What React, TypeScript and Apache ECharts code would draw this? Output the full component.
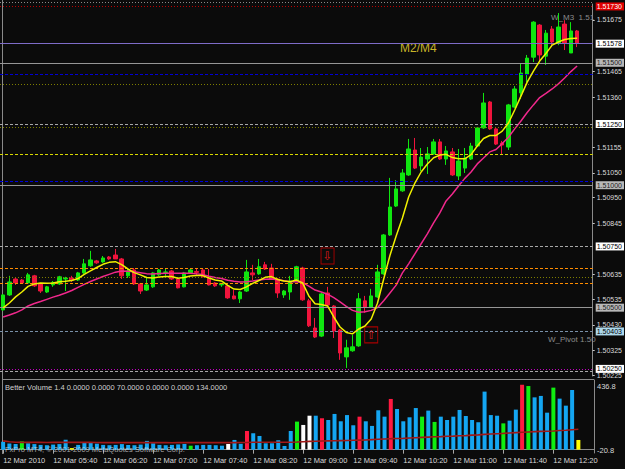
import React, { useEffect, useRef } from "react";
import * as echarts from "echarts";

// ---- data (EURUSD-like M5 chart, 12 Mar 2010) ----
const opens = [
  1.50491, 1.50552, 1.50617, 1.50613, 1.50601, 1.5063, 1.50597, 1.50564, 1.50593, 1.50597,
  1.50617, 1.50621, 1.50613, 1.50642, 1.50671, 1.50691, 1.50687, 1.50707, 1.50715, 1.50699,
  1.5063, 1.50654, 1.50597, 1.50572, 1.50585, 1.50634, 1.50644, 1.5065, 1.50617, 1.50585,
  1.50642, 1.50648, 1.50654, 1.50621, 1.50601, 1.50593, 1.50589, 1.50548, 1.50536, 1.50568,
  1.50642, 1.50638, 1.50675, 1.50662, 1.50617, 1.50552, 1.50564, 1.50613, 1.50662, 1.50528,
  1.50417, 1.50384, 1.5056, 1.50507, 1.50409, 1.50299, 1.50324, 1.50344, 1.50528, 1.50503,
  1.50544, 1.50638, 1.50797, 1.50915, 1.50977, 1.51042, 1.51144, 1.51079, 1.51107, 1.51128,
  1.51177, 1.51107, 1.51136, 1.51038, 1.5107, 1.51107, 1.5116, 1.51234, 1.5134, 1.5123,
  1.51172, 1.51156, 1.51319, 1.51377, 1.51454, 1.51523, 1.51654, 1.51527, 1.51638, 1.51581,
  1.51658, 1.5154, 1.5163,
];
const closes = [
  1.50552, 1.50605, 1.50601, 1.50601, 1.50634, 1.50589, 1.50568, 1.50585, 1.50603, 1.50626,
  1.50621, 1.50613, 1.50642, 1.50679, 1.50695, 1.50683, 1.50703, 1.50699, 1.50699, 1.5063,
  1.5065, 1.50597, 1.50568, 1.50593, 1.50642, 1.50654, 1.50646, 1.50617, 1.50581, 1.50642,
  1.50654, 1.50644, 1.50626, 1.50593, 1.50589, 1.50599, 1.5054, 1.50536, 1.50564, 1.50646,
  1.50634, 1.50667, 1.50658, 1.50617, 1.5056, 1.50568, 1.50609, 1.50667, 1.50532, 1.50426,
  1.5038, 1.50556, 1.50511, 1.50405, 1.50315, 1.50336, 1.5034, 1.50536, 1.50503, 1.50548,
  1.50646, 1.50797, 1.50911, 1.50985, 1.5105, 1.51148, 1.5107, 1.51115, 1.51128, 1.51177,
  1.51107, 1.5114, 1.51042, 1.51099, 1.51111, 1.5116, 1.51234, 1.51336, 1.5123, 1.51168,
  1.51164, 1.51328, 1.51393, 1.51458, 1.51519, 1.51666, 1.51532, 1.51621, 1.51585, 1.51646,
  1.51581, 1.5163, 1.51581,
];
const highs = [
  1.50556, 1.5063, 1.50621, 1.50617, 1.50642, 1.50634, 1.50601, 1.50589, 1.50609, 1.5063,
  1.50626, 1.5063, 1.50646, 1.50699, 1.50732, 1.50695, 1.50711, 1.50711, 1.5074, 1.50703,
  1.50658, 1.50662, 1.50601, 1.50626, 1.50646, 1.50658, 1.50658, 1.50654, 1.50621, 1.50646,
  1.50662, 1.50662, 1.50658, 1.50658, 1.50605, 1.50601, 1.50593, 1.50572, 1.50568, 1.50695,
  1.50675, 1.50699, 1.50687, 1.50679, 1.50621, 1.50572, 1.5063, 1.50671, 1.50667, 1.50536,
  1.50458, 1.5056, 1.50585, 1.50511, 1.50413, 1.50369, 1.50389, 1.5056, 1.50548, 1.50577,
  1.50675, 1.50801, 1.5103, 1.51021, 1.51066, 1.51189, 1.51193, 1.51152, 1.51156, 1.51189,
  1.51189, 1.5116, 1.51152, 1.51148, 1.51152, 1.51173, 1.51238, 1.51377, 1.51344, 1.51238,
  1.51181, 1.51332, 1.51405, 1.51499, 1.51532, 1.5167, 1.51658, 1.51634, 1.5165, 1.51703,
  1.51674, 1.51666, 1.51634,
];
const lows = [
  1.50487, 1.50548, 1.50593, 1.50597, 1.50597, 1.50585, 1.5056, 1.5056, 1.50585, 1.50593,
  1.50568, 1.50605, 1.50609, 1.50638, 1.50667, 1.50679, 1.50683, 1.50695, 1.50699, 1.50617,
  1.50621, 1.50593, 1.50556, 1.50568, 1.50581, 1.5063, 1.5063, 1.50613, 1.50579, 1.50583,
  1.50638, 1.50634, 1.50624, 1.50591, 1.50585, 1.50585, 1.50536, 1.50534, 1.50519, 1.50564,
  1.50613, 1.50634, 1.50654, 1.50613, 1.5054, 1.5054, 1.50532, 1.50609, 1.50528, 1.50421,
  1.50376, 1.5038, 1.50507, 1.50376, 1.50287, 1.50254, 1.5032, 1.5034, 1.50479, 1.50499,
  1.5054, 1.50634, 1.50793, 1.50911, 1.50973, 1.51038, 1.51066, 1.51058, 1.51046, 1.51124,
  1.51103, 1.51083, 1.51038, 1.51021, 1.5105, 1.51103, 1.51156, 1.5123, 1.51226, 1.51164,
  1.51124, 1.51144, 1.51315, 1.51352, 1.51421, 1.51503, 1.51503, 1.51491, 1.51564, 1.51572,
  1.51552, 1.5154, 1.51564,
];
const fastMA = [
  1.50499, 1.50519, 1.50544, 1.50564, 1.50587, 1.50597, 1.50601, 1.506, 1.50601, 1.50606,
  1.50608, 1.50611, 1.50619, 1.50636, 1.5065, 1.50664, 1.50677, 1.50685, 1.50688, 1.50676,
  1.50658, 1.50643, 1.50634, 1.50623, 1.50621, 1.50625, 1.50627, 1.50627, 1.5062, 1.50623,
  1.50629, 1.50631, 1.50631, 1.50621, 1.50613, 1.50609, 1.50591, 1.50576, 1.50574, 1.50585,
  1.50599, 1.50611, 1.50624, 1.50627, 1.50615, 1.50609, 1.50606, 1.50613, 1.50601, 1.50548,
  1.50516, 1.50513, 1.50507, 1.50462, 1.50421, 1.50399, 1.50393, 1.50413, 1.50425, 1.50454,
  1.50518, 1.50617, 1.50713, 1.50793, 1.50866, 1.50952, 1.51009, 1.51054, 1.51087, 1.51112,
  1.51123, 1.51126, 1.51113, 1.51108, 1.51108, 1.51125, 1.5116, 1.51191, 1.51203, 1.51203,
  1.51221, 1.51254, 1.51307, 1.51364, 1.51421, 1.51466, 1.51507, 1.51538, 1.51572, 1.51585,
  1.51595, 1.51599, 1.516,
];
const slowMA = [
  1.50462, 1.5047, 1.50479, 1.50491, 1.50507, 1.50517, 1.50525, 1.50534, 1.50543, 1.50551,
  1.5056, 1.5057, 1.50583, 1.50595, 1.50607, 1.50617, 1.50627, 1.50636, 1.50645, 1.5065,
  1.50649, 1.50647, 1.50643, 1.50639, 1.50638, 1.5064, 1.50641, 1.50641, 1.50641, 1.50641,
  1.50641, 1.50638, 1.50635, 1.50628, 1.50623, 1.50619, 1.50612, 1.50608, 1.50605, 1.50606,
  1.50609, 1.50613, 1.50616, 1.50617, 1.50614, 1.5061, 1.50606, 1.50606, 1.50602, 1.50588,
  1.50572, 1.50564, 1.50555, 1.50541, 1.50524, 1.50505, 1.50489, 1.50481, 1.50483, 1.50489,
  1.505, 1.50528, 1.5056, 1.50592, 1.50642, 1.50679, 1.5072, 1.50761, 1.50801, 1.50846,
  1.50887, 1.50936, 1.50964, 1.50997, 1.51028, 1.51054, 1.51087, 1.51111, 1.51136, 1.51146,
  1.5117, 1.51196, 1.5123, 1.51262, 1.51297, 1.51328, 1.51358, 1.51375, 1.51393, 1.51414,
  1.51438, 1.51464, 1.51487,
];
const volumes = [
  50, 38, 35, 52, 40, 35, 30, 28, 32, 35,
  62, 10, 30, 45, 45, 38, 30, 28, 30, 35,
  30, 28, 32, 55, 40, 30, 28, 30, 33, 36,
  25, 28, 30, 30, 28, 25, 36, 61, 37, 117,
  103, 86, 40, 40, 59, 23, 117, 176, 155, 213,
  213, 197, 186, 224, 178, 217, 153, 207, 178, 149,
  247, 207, 318, 255, 178, 203, 261, 207, 245, 174,
  207, 186, 207, 249, 211, 186, 172, 364, 217, 213,
  165, 182, 251, 407, 399, 328, 337, 232, 389, 320,
  276, 374, 61,
];
// b = normal, r = climax, g = churn, w = low volume, y = low churn
const volumeKinds = (
  "bbbgbbbbbb" + "bybbbbbbbb" + "bbbbbbbbbb" + "gbbbbbwbbr" + "bbbbbbbgww" +
  "brbbbbbrbb" + "bbrbbbbgbg" + "bbbbbbbbbb" + "gbbrgbbbgb" + "bby"
).split("");
const volumeAvg = [
  55, 50, 47, 46, 46, 46, 46, 45, 46, 46,
  47, 46, 46, 46, 46, 45, 44, 44, 44, 44,
  44, 44, 44, 45, 44, 44, 44, 43, 44, 44,
  44, 44, 44, 44, 44, 44, 44, 44, 45, 45,
  47, 47, 47, 47, 47, 47, 47, 48, 50, 52,
  53, 54, 55, 56, 57, 58, 59, 60, 61, 63,
  65, 67, 69, 70, 71, 73, 75, 77, 79, 81,
  82, 84, 85, 87, 88, 91, 93, 96, 98, 100,
  102, 105, 107, 109, 111, 113, 115, 116, 117, 120,
  122, 125, 128,
];
const priceTicks = [1.51675, 1.51465, 1.5136, 1.51155, 1.5105, 1.5095, 1.50845, 1.50635, 1.50535, 1.5043, 1.50325, 1.50225];
const priceMin = 1.50221;
const priceMax = 1.5174;
const volumeMin = -20.8;
const volumeMax = 436.8;
const levelPrices = [1.5173, 1.51578, 1.515, 1.51454, 1.51413, 1.5125, 1.51238, 1.51128, 1.51017, 1.51, 1.5075, 1.50662, 1.50626, 1.50601, 1.505, 1.50403, 1.5025, 1.50242];
const levelKinds = ["red", "lavender", "gray", "blue", "olive", "silver", "olive", "yellow", "blue", "gray", "silver", "orange", "olive", "orange", "gray", "steel", "magenta", "silver"];
const levelBoxed = [true, true, true, false, false, true, false, false, false, true, true, false, false, false, true, true, true, false];
const signalBars = [52, 59];
const signalPrices = [1.50711, 1.50389];
const signalGlyphs = ["\u21E9", "\u21E7"];
const startMinute = 5 * 60;
const slotCount = 95; // 93 bars + chart shift

// ---- styles ----
const FONT = "Liberation Sans";
const levelStyle: Record<string, { color: string; type: any; box?: string; text?: string }> = {
  red: { color: "#B80000", type: [1, 2], box: "#E00000", text: "#FFFFFF" },
  lavender: { color: "#7E6CC8", type: "solid", box: "#FFFFFF", text: "#000000" },
  gray: { color: "#969696", type: "solid", box: "#B8B8B8", text: "#202020" },
  blue: { color: "#0000D8", type: [3, 2] },
  olive: { color: "#7E7E00", type: [1, 2] },
  silver: { color: "#A8A8A8", type: [3, 2], box: "#FFFFFF", text: "#000000" },
  yellow: { color: "#D8D800", type: [3, 2] },
  orange: { color: "#FF8C00", type: [3, 2] },
  steel: { color: "#7890A8", type: [3, 2], box: "#ADD8EC", text: "#000000" },
  magenta: { color: "#C000C0", type: [1, 2], box: "#FFFFFF", text: "#000000" },
};
const volumeColors: Record<string, string> = {
  b: "#14A6F2",
  r: "#FF1840",
  g: "#10EE10",
  w: "#FFFFFF",
  y: "#FFFF00",
};

function pad2(n: number) {
  return n < 10 ? "0" + n : "" + n;
}

export default function App() {
  const ref = useRef<HTMLDivElement>(null);
  useEffect(() => {
    if (!ref.current) return;
    const chart = echarts.init(ref.current, undefined, { renderer: "svg" });
    const cats: string[] = [];
    for (let i = 0; i < slotCount; i++) {
      const m = startMinute + 5 * i;
      cats.push(pad2(Math.floor(m / 60)) + ":" + pad2(m % 60));
    }
    const candleData = opens.map((o, i) => [o, closes[i], lows[i], highs[i]]);
    const volData = volumes.map((v, i) => ({ value: v, itemStyle: { color: volumeColors[volumeKinds[i]] } }));
    const markLineData = levelPrices.map((p, i) => {
      const st = levelStyle[levelKinds[i]];
      return {
        yAxis: p,
        lineStyle: { color: st.color, type: st.type, width: 1 },
        label: levelBoxed[i]
          ? {
              show: true,
              position: "end",
              distance: 3,
              formatter: p.toFixed(5),
              backgroundColor: st.box,
              color: st.text,
              fontSize: 7,
              fontFamily: FONT,
              lineHeight: 7,
              padding: [1, 2, 0, 1],
            }
          : { show: false },
      };
    });
    const labelColor = "#DADADA";
    chart.setOption({
      animation: false,
      backgroundColor: "#0B0B0B",
      textStyle: { fontFamily: FONT },
      grid: [
        { left: 0, top: 4, width: 594, height: 372 },
        { left: 0, top: 380, width: 594, height: 73 },
      ],
      xAxis: [
        { gridIndex: 0, type: "category", data: cats, boundaryGap: true, show: false },
        {
          gridIndex: 1,
          type: "category",
          data: cats,
          boundaryGap: true,
          axisLine: { show: true, lineStyle: { color: "#8A8A8A" } },
          axisTick: { show: true, interval: 7, alignWithLabel: true, length: 4, lineStyle: { color: "#A8A8A8" } },
          axisLabel: {
            interval: 7,
            align: "left",
            margin: 3,
            fontSize: 7.5,
            color: labelColor,
            fontFamily: FONT,
            formatter: (v: string, idx: number) => (idx === 0 ? "12 Mar 2010" : "12 Mar " + v),
          },
          splitLine: { show: false },
        },
      ],
      yAxis: [
        {
          gridIndex: 0,
          type: "value",
          position: "right",
          min: priceMin,
          max: priceMax,
          axisLine: { show: true, lineStyle: { color: "#8A8A8A" } },
          axisTick: { show: true, customValues: priceTicks, length: 2, lineStyle: { color: "#C8C8C8" } },
          axisLabel: {
            customValues: priceTicks,
            formatter: (v: number) => v.toFixed(5),
            fontSize: 7,
            color: labelColor,
            fontFamily: FONT,
            margin: 4,
          },
          splitLine: { show: false },
        },
        {
          gridIndex: 1,
          type: "value",
          position: "right",
          min: volumeMin,
          max: volumeMax,
          axisLine: { show: true, lineStyle: { color: "#8A8A8A" } },
          axisTick: { show: false },
          axisLabel: {
            customValues: [volumeMin, volumeMax],
            formatter: (v: number) => (v > 0 ? "{t|" + v.toFixed(1) + "}" : "{b|" + v.toFixed(1) + "}"),
            fontSize: 7.5,
            color: labelColor,
            fontFamily: FONT,
            margin: 3,
            rich: {
              t: { fontSize: 7.5, color: labelColor, fontFamily: FONT, padding: [12, 0, 0, 0] },
              b: { fontSize: 7.5, color: labelColor, fontFamily: FONT, padding: [0, 0, 6, 0] },
            },
          },
          splitLine: { show: false },
        },
      ],
      series: [
        {
          // invisible carrier series for the horizontal level lines (kept behind candles)
          type: "line",
          xAxisIndex: 0,
          yAxisIndex: 0,
          data: closes,
          symbol: "none",
          lineStyle: { opacity: 0 },
          z: 1,
          silent: true,
          markLine: { symbol: ["none", "none"], precision: 6, silent: true, data: markLineData },
        },
        {
          type: "candlestick",
          xAxisIndex: 0,
          yAxisIndex: 0,
          data: candleData,
          barWidth: 4,
          z: 3,
          itemStyle: {
            color: "#10E610",
            color0: "#F0143C",
            borderColor: "#10E610",
            borderColor0: "#F0143C",
            borderWidth: 1,
          },
          markPoint: {
            symbol: "rect",
            symbolSize: [13, 16],
            silent: true,
            itemStyle: { color: "rgba(0,0,0,0)", borderColor: "#A80000", borderWidth: 1 },
            label: { show: true, position: "inside", color: "#D81818", fontSize: 12, fontFamily: "DejaVu Sans" },
            data: signalBars.map((b, i) => ({
              coord: [cats[b], signalPrices[i]],
              label: { formatter: signalGlyphs[i] },
            })),
          },
        },
        {
          type: "line",
          xAxisIndex: 0,
          yAxisIndex: 0,
          data: slowMA,
          symbol: "none",
          z: 4,
          lineStyle: { color: "#F0288C", width: 1.5 },
        },
        {
          type: "line",
          xAxisIndex: 0,
          yAxisIndex: 0,
          data: fastMA,
          symbol: "none",
          z: 5,
          lineStyle: { color: "#F0F000", width: 1.5 },
        },
        {
          type: "bar",
          xAxisIndex: 1,
          yAxisIndex: 1,
          data: volData,
          barWidth: 4,
          z: 2,
        },
        {
          type: "line",
          xAxisIndex: 1,
          yAxisIndex: 1,
          data: volumeAvg,
          symbol: "none",
          z: 3,
          lineStyle: { color: "#A01818", width: 1.6 },
        },
      ],
      graphic: [
        { type: "line", silent: true, shape: { x1: 2.5, y1: 0, x2: 2.5, y2: 454 }, style: { stroke: "#8A8A8A", lineWidth: 1 } },
        { type: "line", silent: true, shape: { x1: 0, y1: 2.5, x2: 594, y2: 2.5 }, style: { stroke: "#8A8A8A", lineWidth: 1, lineDash: [1, 2] } },
        { type: "line", silent: true, shape: { x1: 2, y1: 379.5, x2: 594, y2: 379.5 }, style: { stroke: "#8A8A8A", lineWidth: 1 } },
        {
          type: "text",
          silent: true,
          x: 400,
          y: 48,
          style: { text: "M2/M4", fill: "#C8B428", fontSize: 12, fontFamily: FONT, verticalAlign: "middle" },
        },
        {
          type: "text",
          silent: true,
          x: 551,
          y: 17,
          style: { text: "W_M3  1.51", fill: "#8C8C8C", fontSize: 8, fontFamily: FONT, verticalAlign: "middle" },
        },
        {
          type: "text",
          silent: true,
          x: 548,
          y: 339,
          style: { text: "W_Pivot 1.50", fill: "#8C8C8C", fontSize: 8, fontFamily: FONT, verticalAlign: "middle" },
        },
        {
          type: "text",
          silent: true,
          x: 5,
          y: 387,
          style: {
            text: "Better Volume 1.4 0.0000 0.0000 70.0000 0.0000 0.0000 134.0000",
            fill: "#D0D0D0",
            fontSize: 7.5,
            fontFamily: FONT,
            verticalAlign: "middle",
          },
        },
        {
          type: "text",
          silent: true,
          z: 100,
          x: 5,
          y: 449,
          style: {
            text: "FxPro MT4, \u00A9 2001-2009 MetaQuotes Software Corp.",
            fill: "rgba(215,215,215,0.75)",
            fontSize: 7.5,
            fontFamily: FONT,
            verticalAlign: "middle",
          },
        },
      ],
    });
    return () => chart.dispose();
  }, []);
  return <div ref={ref} style={{ position: "fixed", left: 0, top: 0, width: 625, height: 469 }} />;
}
